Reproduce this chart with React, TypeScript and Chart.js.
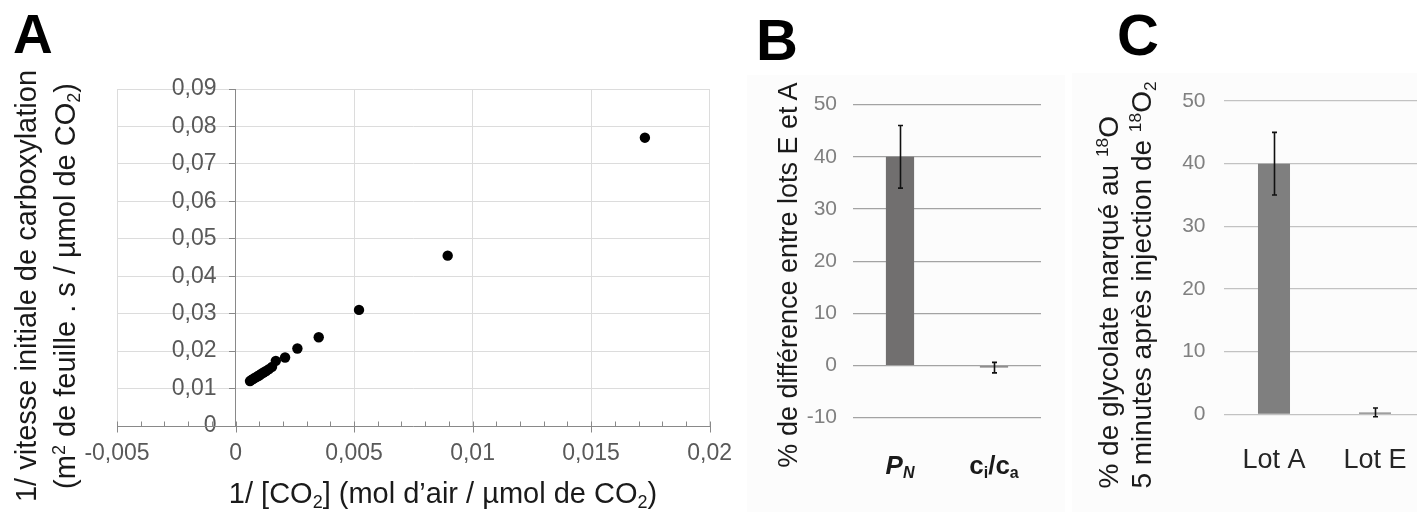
import React, { useEffect, useRef } from 'react';
import { Chart, registerables } from 'chart.js';

Chart.register(...registerables);

const FONT = "'Liberation Sans', Arial, Helvetica, sans-serif";

// ---------- Panel A data ----------
const inverseCO2 = [
  0.00061, 0.00068, 0.00075, 0.00083, 0.00091, 0.00099, 0.00108, 0.00118,
  0.00129, 0.00141, 0.00154, 0.0017, 0.00209, 0.00261, 0.00351, 0.00521,
  0.00895, 0.01727,
];
const inverseRate = [
  0.012, 0.0123, 0.0126, 0.0129, 0.0132, 0.0135, 0.0139, 0.0143,
  0.0147, 0.0152, 0.0158, 0.0174, 0.0183, 0.0207, 0.0237, 0.031,
  0.0455, 0.077,
];
const xTicksA = [-0.005, 0, 0.005, 0.01, 0.015, 0.02];
const yTicksA = [0, 0.01, 0.02, 0.03, 0.04, 0.05, 0.06, 0.07, 0.08, 0.09];

// ---------- Panel B data ----------
const categoriesB = ['P_N', 'c_i/c_a'];
const valuesB = [40, -0.4];
const errorsB = [6, 1.0];
const yTicksB = [-10, 0, 10, 20, 30, 40, 50];

// ---------- Panel C data ----------
const categoriesC = ['Lot A', 'Lot E'];
const valuesC = [40, 0.3];
const errorsC = [5, 0.7];
const yTicksC = [0, 10, 20, 30, 40, 50];

const fmtComma = (v: number) => String(Number(Number(v).toFixed(4))).replace('.', ',');

function parseRich(label: string) {
  const segs: { t: string; sub: boolean }[] = [];
  for (let i = 0; i < label.length; i++) {
    if (label[i] === '_' && i + 1 < label.length) {
      segs.push({ t: label[i + 1], sub: true });
      i++;
    } else {
      segs.push({ t: label[i], sub: false });
    }
  }
  return segs;
}
const plainLabel = (l: string) => l.replace(/_/g, '');

function errorBarPlugin(errors: number[]) {
  return {
    id: 'errorBars',
    afterDatasetsDraw(chart: any) {
      const meta = chart.getDatasetMeta(0);
      const ys = chart.scales.y;
      const vals = chart.data.datasets[0].data as number[];
      const ctx = chart.ctx;
      ctx.save();
      ctx.strokeStyle = '#111';
      ctx.lineWidth = 1.6;
      meta.data.forEach((bar: any, i: number) => {
        const x = Math.round(bar.x) + 0.5;
        const top = ys.getPixelForValue(vals[i] + errors[i]);
        const bot = ys.getPixelForValue(vals[i] - errors[i]);
        ctx.beginPath();
        ctx.moveTo(x, top);
        ctx.lineTo(x, bot);
        ctx.moveTo(x - 2.5, top);
        ctx.lineTo(x + 2.5, top);
        ctx.moveTo(x - 2.5, bot);
        ctx.lineTo(x + 2.5, bot);
        ctx.stroke();
      });
      ctx.restore();
    },
  };
}

const labelStylesB = ['italic bold', 'bold'];

const richLabelsB = {
  id: 'richLabelsB',
  afterDraw(chart: any) {
    const xs = chart.scales.x;
    const ctx = chart.ctx;
    const baseY = chart.chartArea.bottom + 56;
    ctx.save();
    ctx.fillStyle = '#1a1a1a';
    ctx.textBaseline = 'alphabetic';
    ctx.textAlign = 'left';
    categoriesB.forEach((lab, i) => {
      const segs = parseRich(lab);
      const style = labelStylesB[i];
      const fontFor = (sub: boolean) => `${style} ${sub ? 16 : 26}px ${FONT}`;
      let total = 0;
      segs.forEach((s) => {
        ctx.font = fontFor(s.sub);
        total += ctx.measureText(s.t).width;
      });
      let x = xs.getPixelForValue(i) - total / 2;
      segs.forEach((s) => {
        ctx.font = fontFor(s.sub);
        ctx.fillText(s.t, x, baseY + (s.sub ? 4 : 0));
        x += ctx.measureText(s.t).width;
      });
    });
    ctx.restore();
  },
};

const minorTicksA = {
  id: 'minorTicksA',
  afterDraw(chart: any) {
    const xs = chart.scales.x;
    const ys = chart.scales.y;
    const ctx = chart.ctx;
    const y0 = Math.round(ys.getPixelForValue(0)) + 0.5;
    const step = 0.001;
    const n = Math.round((xs.max - xs.min) / step);
    ctx.save();
    ctx.strokeStyle = '#898989';
    ctx.lineWidth = 1;
    ctx.beginPath();
    for (let k = 0; k <= n; k++) {
      const px = Math.round(xs.getPixelForValue(xs.min + k * step)) + 0.5;
      const major = k % 5 === 0;
      ctx.moveTo(px, y0 - 5);
      ctx.lineTo(px, major ? y0 + 6 : y0);
    }
    ctx.stroke();
    ctx.restore();
  },
};

// Offset the labels of an axis that is positioned at a data value
function offsetLabels(dx: number) {
  return (s: any) => {
    if (s.__offsetPatched) return;
    s.__offsetPatched = true;
    const orig = s._computeLabelItems.bind(s);
    s._computeLabelItems = (area: any) =>
      orig(area).map((it: any) => {
        const tr = it.options.translation;
        it.options.translation = [tr[0] - dx, tr[1]];
        return it;
      });
  };
}

function configA(): any {
  return {
    type: 'scatter',
    data: {
      datasets: [
        {
          data: inverseCO2.map((x, i) => ({ x, y: inverseRate[i] })),
          backgroundColor: '#000',
          borderWidth: 0,
          pointRadius: 5.2,
          pointHoverRadius: 5.2,
        },
      ],
    },
    options: {
      responsive: false,
      animation: false,
      events: [],
      layout: { padding: { left: 117, top: 89, right: 23, bottom: 0 } },
      plugins: { legend: { display: false }, tooltip: { enabled: false } },
      scales: {
        x: {
          type: 'linear',
          position: 'bottom',
          min: xTicksA[0],
          max: xTicksA[xTicksA.length - 1],
          afterBuildTicks: (s: any) => {
            s.ticks = xTicksA.map((v) => ({ value: v }));
          },
          afterFit: (s: any) => {
            s.height = 86;
          },
          grid: { color: '#dcdcdc', tickColor: 'rgba(0,0,0,0)', tickLength: 6 },
          border: { color: '#898989', width: 1, z: 1 },
          ticks: {
            font: { family: FONT, size: 23 },
            color: '#595959',
            padding: 8,
            maxRotation: 0,
            autoSkip: false,
            callback: (v: any) => fmtComma(v),
          },
        },
        y: {
          type: 'linear',
          position: { x: 0 },
          min: yTicksA[0],
          max: yTicksA[yTicksA.length - 1],
          afterBuildTicks: (s: any) => {
            s.ticks = yTicksA.map((v) => ({ value: v }));
          },
          afterUpdate: offsetLabels(19),
          grid: { color: '#dcdcdc', tickColor: '#898989', tickLength: 6 },
          border: { color: '#898989', width: 1, z: 1 },
          ticks: {
            font: { family: FONT, size: 23 },
            color: '#595959',
            padding: 13,
            autoSkip: false,
            callback: (v: any) => fmtComma(v),
          },
        },
      },
    },
    plugins: [minorTicksA],
  };
}

function configB(): any {
  return {
    type: 'bar',
    data: {
      labels: categoriesB.map(plainLabel),
      datasets: [
        {
          data: valuesB,
          backgroundColor: '#716f6f',
          borderWidth: 0,
          barPercentage: 0.3,
          categoryPercentage: 1,
        },
      ],
    },
    options: {
      responsive: false,
      animation: false,
      events: [],
      layout: { padding: { left: 0, top: 104.7, right: 19, bottom: 94.3 } },
      plugins: { legend: { display: false }, tooltip: { enabled: false } },
      scales: {
        x: { type: 'category', display: false, offset: true },
        y: {
          min: yTicksB[0],
          max: yTicksB[yTicksB.length - 1],
          afterBuildTicks: (s: any) => {
            s.ticks = yTicksB.map((v) => ({ value: v }));
          },
          afterFit: (s: any) => {
            s.width = 73;
          },
          grid: { color: '#a3a3a3', drawTicks: false, lineWidth: 1.2 },
          border: { display: false },
          ticks: {
            font: { family: FONT, size: 21 },
            color: '#808080',
            padding: 16,
            autoSkip: false,
          },
        },
      },
    },
    plugins: [errorBarPlugin(errorsB), richLabelsB],
  };
}

function configC(): any {
  return {
    type: 'bar',
    data: {
      labels: categoriesC,
      datasets: [
        {
          data: valuesC,
          backgroundColor: '#7f7f7f',
          borderWidth: 0,
          barPercentage: 0.317,
          categoryPercentage: 1,
        },
      ],
    },
    options: {
      responsive: false,
      animation: false,
      events: [],
      layout: { padding: { left: 0, top: 101, right: 4.5, bottom: 0 } },
      plugins: { legend: { display: false }, tooltip: { enabled: false } },
      scales: {
        x: {
          type: 'category',
          offset: true,
          grid: { display: false },
          border: { display: false },
          afterFit: (s: any) => {
            s.height = 97.7;
          },
          ticks: {
            font: { family: FONT, size: 27 },
            color: '#262626',
            padding: 22,
            maxRotation: 0,
          },
        },
        y: {
          min: yTicksC[0],
          max: yTicksC[yTicksC.length - 1],
          afterBuildTicks: (s: any) => {
            s.ticks = yTicksC.map((v) => ({ value: v }));
          },
          afterFit: (s: any) => {
            s.width = 73.5;
          },
          grid: { color: '#c2c2c2', drawTicks: false, lineWidth: 1.2 },
          border: { display: false },
          ticks: {
            font: { family: FONT, size: 21 },
            color: '#808080',
            padding: 18,
            autoSkip: false,
          },
        },
      },
    },
    plugins: [errorBarPlugin(errorsC)],
  };
}

function ChartCanvas(props: { make: () => any; left: number; top: number; width: number; height: number }) {
  const ref = useRef<HTMLCanvasElement | null>(null);
  useEffect(() => {
    const chart = new Chart(ref.current as HTMLCanvasElement, props.make());
    return () => chart.destroy();
  }, []);
  return (
    <canvas
      ref={ref}
      width={props.width}
      height={props.height}
      style={{ position: 'absolute', left: props.left, top: props.top, width: props.width, height: props.height }}
    />
  );
}

const SUP: React.CSSProperties = { fontSize: '0.62em', verticalAlign: '0.55em', lineHeight: 0 };
const SUB: React.CSSProperties = { fontSize: '0.62em', verticalAlign: '-0.3em', lineHeight: 0 };

function RotTitle(props: { cx: number; cy: number; size: number; lh: number; align?: any; children: any }) {
  return (
    <div
      style={{
        position: 'absolute',
        left: props.cx,
        top: props.cy,
        transform: 'translate(-50%, -50%) rotate(-90deg)',
        whiteSpace: 'nowrap',
        fontSize: props.size,
        lineHeight: `${props.lh}px`,
        textAlign: props.align || 'center',
        color: '#1a1a1a',
      }}
    >
      {props.children}
    </div>
  );
}

function Letter(props: { x: number; y: number; size: number; text: string }) {
  return (
    <div
      style={{
        position: 'absolute',
        left: props.x,
        top: props.y,
        fontSize: props.size,
        fontWeight: 'bold',
        lineHeight: 1,
        color: '#000',
      }}
    >
      {props.text}
    </div>
  );
}

export default function App() {
  return (
    <div
      style={{
        position: 'absolute',
        left: 0,
        top: 0,
        width: 1417,
        height: 512,
        overflow: 'hidden',
        background: '#ffffff',
        fontFamily: FONT,
      }}
    >
      <div style={{ position: 'absolute', left: 747, top: 75, width: 318, height: 437, background: '#fcfcfc' }} />
      <div style={{ position: 'absolute', left: 1072, top: 73, width: 345, height: 439, background: '#fcfcfc' }} />

      <ChartCanvas make={configA} left={0} top={0} width={740} height={512} />
      <ChartCanvas make={configB} left={780} top={0} width={280} height={512} />
      <ChartCanvas make={configC} left={1150} top={0} width={280} height={512} />

      <Letter x={13} y={7} size={55} text="A" />
      <Letter x={756} y={11} size={58} text="B" />
      <Letter x={1117} y={6} size={58} text="C" />

      <RotTitle cx={45.5} cy={286} size={29} lh={39}>
        <div>1/ vitesse initiale de carboxylation</div>
        <div>
          (m<span style={SUP}>2</span> de feuille . s / µmol de CO<span style={SUB}>2</span>)
        </div>
      </RotTitle>

      <div
        style={{
          position: 'absolute',
          left: 443,
          top: 493,
          transform: 'translate(-50%, -50%)',
          whiteSpace: 'nowrap',
          fontSize: 29,
          lineHeight: '35px',
          color: '#1a1a1a',
        }}
      >
        1/ [CO<span style={SUB}>2</span>] (mol d’air / µmol de CO<span style={SUB}>2</span>)
      </div>

      <RotTitle cx={787.7} cy={275} size={27} lh={32}>
        % de différence entre lots E et A
      </RotTitle>

      <RotTitle cx={1124.5} cy={285} size={28} lh={33} align="left">
        <div>
          % de glycolate marqué au <span style={SUP}>18</span>O
        </div>
        <div>
          5 minutes après injection de <span style={SUP}>18</span>O<span style={SUB}>2</span>
        </div>
      </RotTitle>
    </div>
  );
}
